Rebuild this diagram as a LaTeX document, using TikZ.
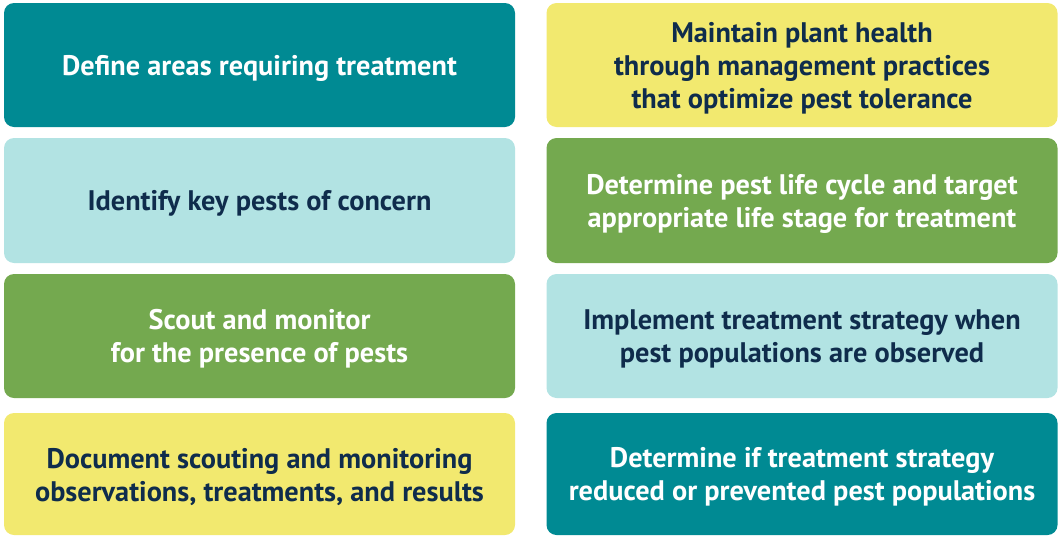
\documentclass[tikz,border=0pt]{standalone}
\usepackage{fontspec}
\setmainfont{PT Sans}
\definecolor{cteal}{HTML}{008A93}
\definecolor{ccyan}{HTML}{B2E3E3}
\definecolor{cgreen}{HTML}{74A94F}
\definecolor{cyellow}{HTML}{F2E96F}
\definecolor{cnavy}{HTML}{0F2C4C}
\tikzset{
  card/.style={rectangle, rounded corners=10pt, draw=none, minimum width=511pt, inner sep=0pt},
  tealcard/.style={card, fill=cteal},
  cyancard/.style={card, fill=ccyan},
  greencard/.style={card, fill=cgreen},
  yellowcard/.style={card, fill=cyellow},
  lbl/.style={align=center, inner sep=0pt, font=\bfseries\fontsize{28.3}{33}\selectfont},
  light/.style={lbl, text=white},
  dark/.style={lbl, text=cnavy}
}
\begin{document}
\begin{tikzpicture}[x=1pt,y=-1pt]
\useasboundingbox (0,0) rectangle (1061,536);
% left column
\node[tealcard, minimum height=124pt] (l1) at (259.5,65) {};
\node[cyancard, minimum height=125pt] (l2) at (259.5,200.5) {};
\node[greencard, minimum height=124pt] (l3) at (259.5,336) {};
\node[yellowcard, minimum height=122pt] (l4) at (259.5,474) {};
% right column
\node[yellowcard, minimum height=124pt] (r1) at (802,65) {};
\node[greencard, minimum height=125pt] (r2) at (802,200.5) {};
\node[cyancard, minimum height=124pt] (r3) at (802,336) {};
\node[tealcard, minimum height=122pt] (r4) at (802,474) {};
% labels
\node[light] (l1t) at ([yshift=-3pt]l1.center) {Define areas requiring treatment};
\node[dark]  (l2t) at ([yshift=-3pt]l2.center) {Identify key pests of concern};
\node[light] (l3t) at ([yshift=-3pt]l3.center) {Scout and monitor\\for the presence of pests};
\node[dark]  (l4t) at ([yshift=-3pt]l4.center) {Document scouting and monitoring\\observations, treatments, and results};
\node[dark]  (r1t) at ([yshift=-3pt]r1.center) {Maintain plant health\\through management practices\\that optimize pest tolerance};
\node[light] (r2t) at ([yshift=-3pt]r2.center) {Determine pest life cycle and target\\appropriate life stage for treatment};
\node[dark]  (r3t) at ([yshift=-3pt]r3.center) {Implement treatment strategy when\\pest populations are observed};
\node[light] (r4t) at ([yshift=-3pt]r4.center) {Determine if treatment strategy\\reduced or prevented pest populations};
\end{tikzpicture}
\end{document}
